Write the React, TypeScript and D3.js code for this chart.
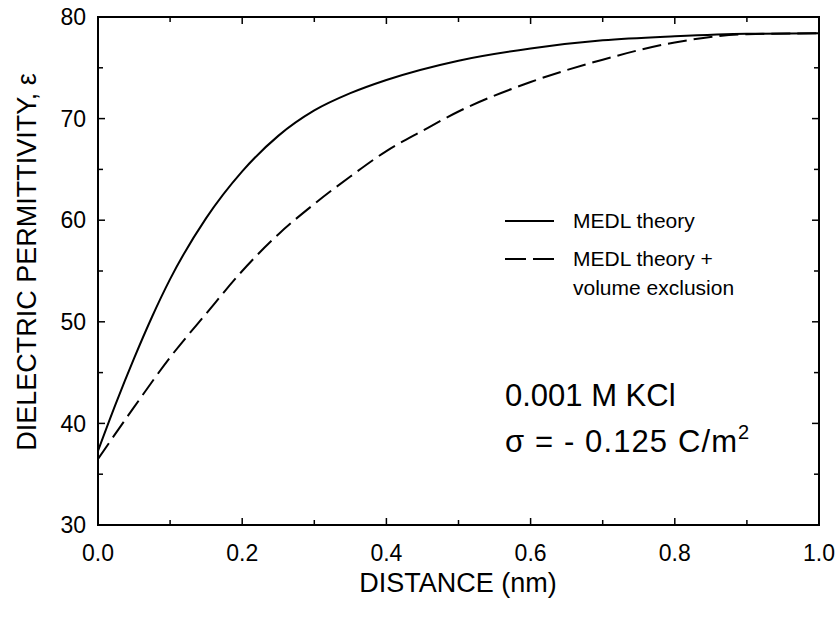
import React from "react";
import * as d3 from "d3";

const solidX = [0, 0.025, 0.05, 0.075, 0.1, 0.15, 0.2, 0.25, 0.3, 0.35, 0.4, 0.5, 0.6, 0.7, 0.8, 0.9, 1.0];
const solidY = [37.3, 42.0, 46.4, 50.5, 54.2, 60.2, 64.8, 68.3, 70.8, 72.5, 73.8, 75.7, 76.9, 77.7, 78.1, 78.35, 78.4];
const dashedX = [0, 0.05, 0.1, 0.15, 0.2, 0.25, 0.3, 0.35, 0.4, 0.45, 0.5, 0.6, 0.7, 0.8, 0.9, 1.0];
const dashedY = [36.5, 41.6, 46.5, 50.8, 55.0, 58.6, 61.6, 64.3, 66.8, 68.8, 70.7, 73.6, 75.8, 77.5, 78.3, 78.4];

const xMajor = [0, 0.2, 0.4, 0.6, 0.8, 1.0];
const xMinor = [0.1, 0.3, 0.5, 0.7, 0.9];
const yMajor = [30, 40, 50, 60, 70, 80];
const yMinor = [35, 45, 55, 65, 75];

const legendLabels = ["MEDL theory", "MEDL theory +", "volume exclusion"];

const FONT = "'Liberation Sans', Arial, Helvetica, sans-serif";

export default function App() {
  const W = 840, H = 620;
  const left = 98, right = 819, top = 17, bottom = 525;
  const x = d3.scaleLinear().domain([0, 1]).range([left, right]);
  const y = d3.scaleLinear().domain([30, 80]).range([bottom, top]);
  const line = d3.line<[number, number]>().x(d => x(d[0])).y(d => y(d[1])).curve(d3.curveMonotoneX);
  const solidPath = line(solidX.map((v, i) => [v, solidY[i]]) as [number, number][]) || "";
  const dashedPath = line(dashedX.map((v, i) => [v, dashedY[i]]) as [number, number][]) || "";
  const majL = 7, minL = 5;

  return (
    <svg width={W} height={H} style={{ position: "absolute", left: 0, top: 0 }} fontFamily={FONT}>
      <rect x={0} y={0} width={W} height={H} fill="#fff" />
      <defs>
        <clipPath id="plotclip">
          <rect x={left} y={top} width={right - left} height={bottom - top} />
        </clipPath>
      </defs>
      <rect x={left} y={top} width={right - left} height={bottom - top} fill="none" stroke="#000" strokeWidth={2} />
      {xMajor.map(v => (
        <g key={"xM" + v}>
          <line x1={x(v)} x2={x(v)} y1={bottom} y2={bottom - majL} stroke="#000" strokeWidth={1.5} />
          <line x1={x(v)} x2={x(v)} y1={top} y2={top + majL} stroke="#000" strokeWidth={1.5} />
          <text x={x(v)} y={561} textAnchor="middle" fontSize={23} fill="#000">{v.toFixed(1)}</text>
        </g>
      ))}
      {xMinor.map(v => (
        <g key={"xm" + v}>
          <line x1={x(v)} x2={x(v)} y1={bottom} y2={bottom - minL} stroke="#000" strokeWidth={1.5} />
          <line x1={x(v)} x2={x(v)} y1={top} y2={top + minL} stroke="#000" strokeWidth={1.5} />
        </g>
      ))}
      {yMajor.map(v => (
        <g key={"yM" + v}>
          <line x1={left} x2={left + majL} y1={y(v)} y2={y(v)} stroke="#000" strokeWidth={1.5} />
          <line x1={right} x2={right - majL} y1={y(v)} y2={y(v)} stroke="#000" strokeWidth={1.5} />
          <text x={86} y={y(v)} dy="0.36em" textAnchor="end" fontSize={23} fill="#000">{v}</text>
        </g>
      ))}
      {yMinor.map(v => (
        <g key={"ym" + v}>
          <line x1={left} x2={left + minL} y1={y(v)} y2={y(v)} stroke="#000" strokeWidth={1.5} />
          <line x1={right} x2={right - minL} y1={y(v)} y2={y(v)} stroke="#000" strokeWidth={1.5} />
        </g>
      ))}
      <g clipPath="url(#plotclip)">
        <path d={solidPath} fill="none" stroke="#000" strokeWidth={2} />
        <path d={dashedPath} fill="none" stroke="#000" strokeWidth={2} strokeDasharray="19,7" />
      </g>
      <text x={458} y={592} textAnchor="middle" fontSize={27} fill="#000">DISTANCE (nm)</text>
      <text transform={`translate(36,${262}) rotate(-90)`} textAnchor="middle" fontSize={27} fill="#000">
        DIELECTRIC PERMITTIVITY, ε
      </text>
      <line x1={505} x2={554} y1={221} y2={221} stroke="#000" strokeWidth={2} />
      <text x={573} y={228} fontSize={21} fill="#000">{legendLabels[0]}</text>
      <line x1={505} x2={554} y1={259} y2={259} stroke="#000" strokeWidth={2} strokeDasharray="21,7" />
      <text x={573} y={266} fontSize={21} fill="#000">{legendLabels[1]}</text>
      <text x={573} y={295} fontSize={21} fill="#000">{legendLabels[2]}</text>
      <text x={505} y={406} fontSize={31} fill="#000">0.001 M KCl</text>
      <text x={505} y={452} fontSize={31} fill="#000">
        <tspan textLength={232} lengthAdjust="spacing">σ = - 0.125 C/m</tspan>
        <tspan dy={-13} fontSize={20}>2</tspan>
      </text>
    </svg>
  );
}
